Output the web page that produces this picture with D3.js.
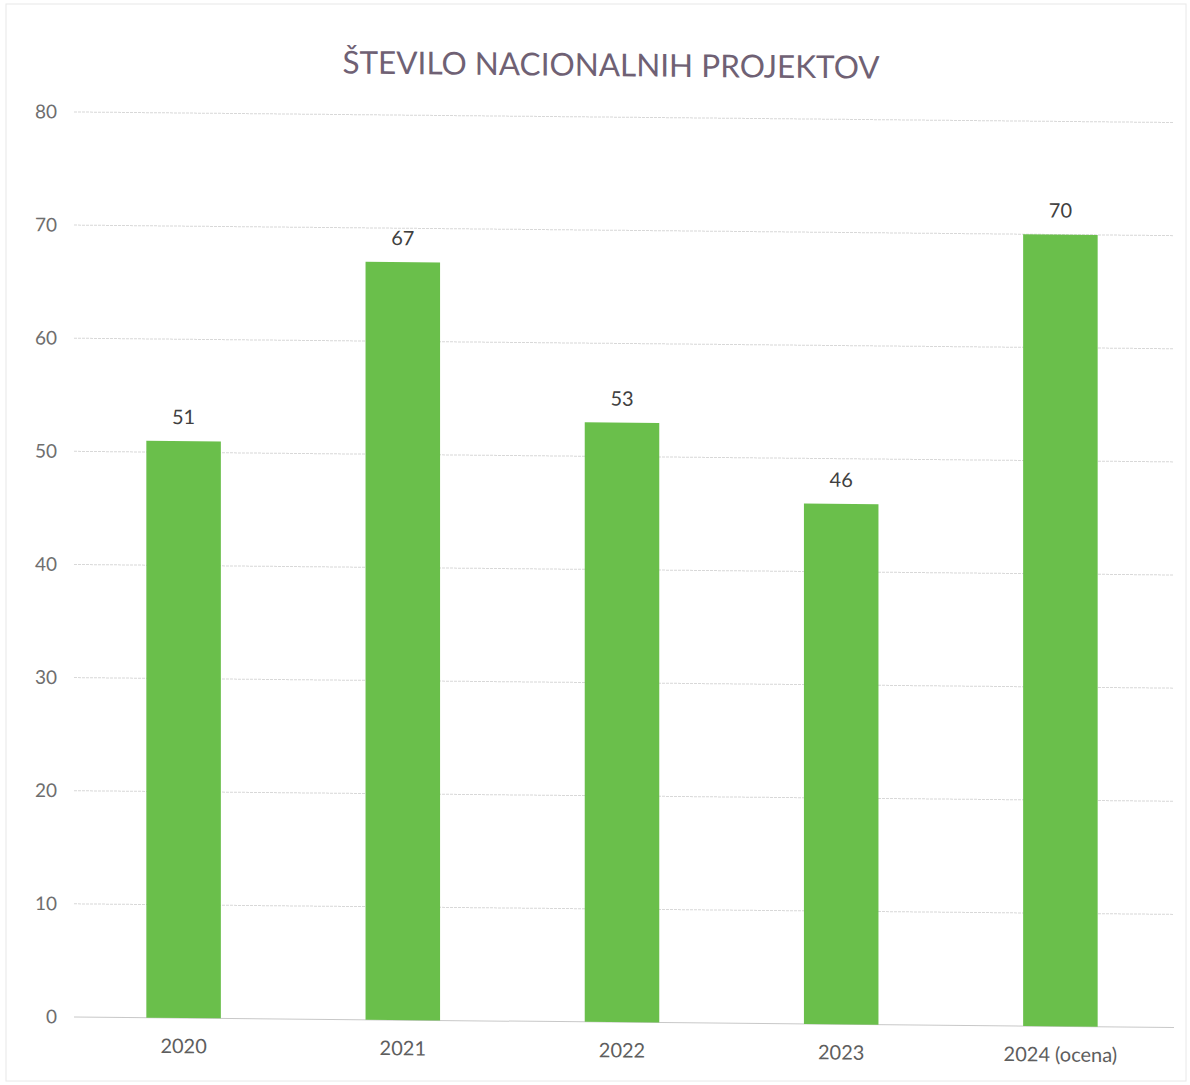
<!DOCTYPE html>
<html><head><meta charset="utf-8">
<script src="https://cdn.jsdelivr.net/npm/d3@7"></script>
<style>body{margin:0;background:#fff;} text{font-family:Lato,"Open Sans",sans-serif;}</style>
</head><body>
<svg id="c" width="1190" height="1085"></svg>
<script>
const categories = ["2020","2021","2022","2023","2024 (ocena)"];
const values = [51,67,53,46,70];
const yTicks = [0,10,20,30,40,50,60,70,80];
const title = "ŠTEVILO NACIONALNIH PROJEKTOV";

const svg = d3.select("#c");
const W = 1190, H = 1085;
const m = {left:74, right:20, top:117, bottom:1022};

svg.append("rect").attr("x",6).attr("y",4).attr("width",W-10).attr("height",H-8)
  .attr("fill","none").attr("stroke","#e8e8e8").attr("stroke-width",1);

// the source is a slightly skewed scan: horizontals slope down to the right
const g = svg.append("g").attr("transform","translate(600,540) skewY(0.55) translate(-600,-540)");

const x = d3.scaleBand().domain(categories).range([m.left, W-m.right]).paddingInner(0.66).paddingOuter(0.33);
const y = d3.scaleLinear().domain([0,80]).range([m.bottom, m.top]);

g.append("g").selectAll("line").data(yTicks).join("line")
  .attr("x1",m.left).attr("x2",W-m.right+4)
  .attr("y1",d=>y(d)).attr("y2",d=>y(d))
  .attr("stroke",d=>d===0?"#c8c8c8":"#d8d8d8").attr("stroke-width",1)
  .attr("stroke-dasharray",d=>d===0?null:"3,1");

const yAxis = d3.axisLeft(y).tickValues(yTicks).tickSize(0).tickPadding(0);
const ya = g.append("g").attr("transform",`translate(${m.left-17},0)`).call(yAxis);
ya.select(".domain").remove();
ya.selectAll("text").attr("font-size",19).attr("fill","#6e6e6e").attr("font-family","Lato,'Open Sans',sans-serif");

g.append("g").selectAll("rect").data(values).join("rect")
  .attr("x",(d,i)=>x(categories[i])).attr("width",x.bandwidth())
  .attr("y",d=>y(d)).attr("height",d=>y(0)-y(d))
  .attr("fill","#6abf4b");

g.append("g").selectAll("text").data(values).join("text")
  .attr("x",(d,i)=>x(categories[i])+x.bandwidth()/2)
  .attr("y",d=>y(d)-17)
  .attr("text-anchor","middle").attr("font-size",20).attr("fill","#404040")
  .text(d=>d);

const xAxis = d3.axisBottom(x).tickSize(0).tickPadding(0);
const xa = g.append("g").attr("transform",`translate(0,${m.bottom+21})`).call(xAxis);
xa.select(".domain").remove();
xa.selectAll("text").attr("font-size",20).attr("fill","#5e5e5e").attr("dy","0.71em").attr("font-family","Lato,'Open Sans',sans-serif");

g.append("text").attr("x",611).attr("y",76).attr("text-anchor","middle")
  .attr("font-size",31.5).attr("fill","#6f6174").text(title);
</script>
</body></html>
